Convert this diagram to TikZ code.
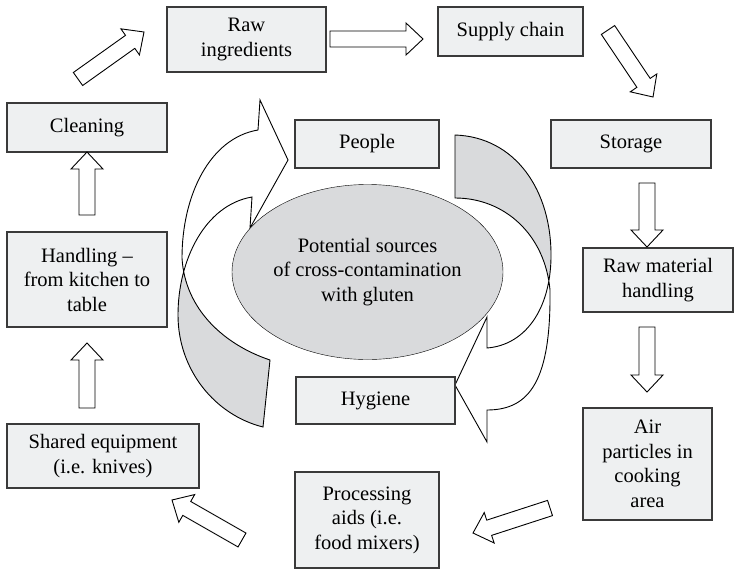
\documentclass[tikz,border=0pt]{standalone}
\usepackage{fontspec}
\setmainfont{Liberation Serif}
\usetikzlibrary{calc}
\usetikzlibrary{positioning}
\usetikzlibrary{shapes}
\usetikzlibrary{intersections}
\definecolor{boxfill}{HTML}{EEF0F1}
\definecolor{boxline}{HTML}{3A3A3A}
\definecolor{sourcefill}{HTML}{D9DADC}
% edges of the twisted ribbons, in pixels from the top left corner
% \lribA, \lribB left ribbon: the two edges cross once
\newcommand*\lribA{%
    (270,360) .. controls (225,345) and (185,310) .. (182,258)%
    .. controls (182,195) and (210,138) .. (258,130)%
}
\newcommand*\lribB{%
    (252,197) .. controls (205,205) and (178,260) .. (178,315)%
    .. controls (178,370) and (215,415) .. (263,427)%
}
% \rribC, \rribD right ribbon
\newcommand*\rribC{%
    (455,135) .. controls (515,137) and (552,190) .. (551,258)%
    .. controls (550,310) and (525,345) .. (487,348)%
}
\newcommand*\rribD{%
    (487,410) .. controls (530,410) and (551,380) .. (550,290)%
    .. controls (545,235) and (505,198) .. (455,198)%
}
% whole outlines, heads included
\edef\lribbon{\lribA -- (260,100) -- (288,160) -- (250,228) -- \lribB -- cycle}
\edef\rribbon{\rribC -- (487,317) -- (455,385) -- (487,442) -- \rribD -- cycle}

\begin{document}
\begin{tikzpicture}
    [%
        x=1pt,y=-1pt,%
        box/.style={%
            draw=boxline,%
            fill=boxfill,%
            line width=1.2pt,%
            inner sep=0pt,%
            align=center,%
            font=\fontsize{20.5}{24.5}\selectfont%
        },%
        sources/.style={%
            draw,%
            ellipse,%
            fill=sourcefill,%
            inner sep=-4pt,%
            align=center,%
            font=\fontsize{20.5}{24.5}\selectfont%
        },%
        ribbon/.style={%
            draw,%
            line width=0.9pt%
        },%
        flow arrow/.style={%
            draw,%
            fill=white,%
            line width=0.9pt,%
            to path={%
                let \p1=($(\tikztotarget)-(\tikztostart)$),%
                    \n1={atan2(\y1,\x1)} in
                ($(\tikztostart)+(\n1+90:8pt)$)%
                -- ($(\tikztotarget)!17pt!(\tikztostart)+(\n1+90:8pt)$)%
                -- ($(\tikztotarget)!17pt!(\tikztostart)+(\n1+90:16pt)$)%
                -- (\tikztotarget)%
                -- ($(\tikztotarget)!17pt!(\tikztostart)+(\n1-90:16pt)$)%
                -- ($(\tikztotarget)!17pt!(\tikztostart)+(\n1-90:8pt)$)%
                -- ($(\tikztostart)+(\n1-90:8pt)$)%
                -- cycle%
            }%
        }%
    ]%
    \useasboundingbox (0,0) rectangle (735,570);
%
    % where the ribbons twist
    \path[name path=lribA] \lribA;
    \path[name path=lribB] \lribB;
    \path[name intersections={of=lribA and lribB, by=lcross}];
    \path[name path=rribC] \rribC;
    \path[name path=rribD] \rribD;
    \path[name intersections={of=rribC and rribD, by=rcross}];
    % back side of each ribbon, its tail up to the twist
    \begin{scope}
        \clip (0,0 |- lcross) rectangle (735,570);
        \fill[sourcefill] \lribbon;
    \end{scope}
    \begin{scope}
        \clip (0,0) rectangle (735,0 |- rcross);
        \fill[sourcefill] \rribbon;
    \end{scope}
    \draw[ribbon] \lribbon;
    \draw[ribbon] \rribbon;
%
    % centre of the cycle
    \node[sources, minimum width=271, minimum height=175] (sources) at (367.5,272)
        {Potential sources\\of cross-contamination\\with gluten};
    \node[box, minimum width=144, minimum height=48] (people) at (367,144) {People};
    \node[box, minimum width=159, minimum height=47] (hygiene) at (375.5,400.5) {Hygiene};
%
    % the cycle, clockwise from the top
    \node[box, minimum width=159, minimum height=65] (rawing) at (246.5,39.5) {Raw\\ingredients};
    \node[box, minimum width=145, minimum height=49] (supply) at (510.5,31.5) {Supply chain};
    \node[box, minimum width=160, minimum height=48] (storage) at (631,144) {Storage};
    \node[box, minimum width=150, minimum height=64] (rawmat) at (658,280) {Raw material\\handling};
    \node[box, minimum width=129, minimum height=112] (air) at (647.5,464) {Air\\particles in\\cooking\\area};
    \node[box, minimum width=144, minimum height=96] (processing) at (367,520) {Processing\\aids (i.e.\\food mixers)};
    \node[box, minimum width=192, minimum height=64] (shared) at (103,456) {Shared equipment\\(i.e. knives)};
    \node[box, minimum width=160, minimum height=95] (handling) at (87,279.5) {Handling –\\from kitchen to\\table};
    \node[box, minimum width=160, minimum height=49] (cleaning) at (87,127.5) {Cleaning};
%
    % ports of the flow arrows
    % \port port name
    % \x/\y port coordinates
    \foreach \port/\x/\y in {%
        cleaning-out/78/79, rawing-in/144/32,%
        rawing-out/330/39, supply-in/423/39,%
        supply-out/608/30, storage-in/653/97,%
        storage-out/647/183, rawmat-in/647/247,%
        rawmat-out/647/327, air-in/647/392,%
        air-out/550/508, processing-in/473/533,%
        processing-out/242/540, shared-in/172/500,%
        shared-out/87/408, handling-in/87/343,%
        handling-out/87/215, cleaning-in/87/152%
    }
        \coordinate (\port) at (\x,\y);
    % \foreach \port/\x/\y
    \foreach \from/\to in {%
        cleaning/rawing, rawing/supply, supply/storage,%
        storage/rawmat, rawmat/air, air/processing,%
        processing/shared, shared/handling, handling/cleaning%
    }
        \draw[flow arrow] (\from-out) to (\to-in);
    % \foreach \from/\to
\end{tikzpicture}
\end{document}
